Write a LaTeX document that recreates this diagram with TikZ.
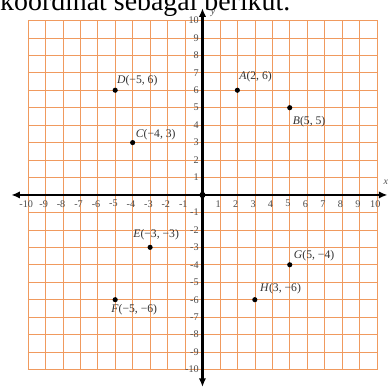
\documentclass[tikz,border=0pt]{standalone}
\usepackage{fontspec}
\setmainfont{Liberation Serif}
\usetikzlibrary{positioning,arrows.meta}
\definecolor{GridOrange}{HTML}{F09A5E}

\begin{document}
\begin{tikzpicture}[x=0.5cm, y=0.5cm,
  dot/.style={circle,fill=black,inner sep=0pt,minimum size=4.2pt},
  ptlab/.style={anchor=west,inner sep=0pt,font=\fontsize{9.5}{11}\selectfont,text=black!80},
  numlab/.style={inner sep=0pt,font=\fontsize{8.3}{9}\selectfont,text=black!70}]
\clip (-11.6,-11.0) rectangle (10.63,11.17);
\fill[white] (-11.6,-11.0) rectangle (10.63,11.17);
% caption line (cut off at the top)
\node[anchor=base west,inner sep=0pt,font=\fontsize{22.7}{26}\selectfont] (caption) at (-11.6,10.55) {koordinat sebagai berikut.};
% grid
\foreach \i in {-10,...,10} {
  \draw[GridOrange,line width=0.5pt] (\i,-10) -- (\i,10);
  \draw[GridOrange,line width=0.5pt] (-10,\i) -- (10,\i);
}
% axes
\coordinate (xl) at (-10.95,0);
\coordinate (xr) at (10.6,0);
\coordinate (yb) at (0,-11.0);
\coordinate (yt) at (0,10.7);
\draw[{Latex[length=7pt,width=6pt]}-{Latex[length=7pt,width=6pt]},line width=1.7pt] (xl) -- (xr);
\draw[{Latex[length=7pt,width=6pt]}-{Latex[length=7pt,width=6pt]},line width=1.7pt] (yb) -- (yt);
\node[numlab,font=\itshape\fontsize{8}{9}\selectfont] (xname) at (10.5,0.7) {x};
\node[numlab,font=\itshape\fontsize{8}{9}\selectfont] (yname) at (0.6,10.4) {y};
\foreach \i in {-10,...,-1,1,2,...,10} {
  \node[numlab] (xt\i) at (\i-0.1,-0.5) {\i};
  \node[numlab,anchor=east] (yt\i) at (-0.2,\i) {\i};
}
\fill (0,0) circle (2.5pt);
% points
\node[dot] (A) at (2,6) {};
\node[dot] (B) at (5,5) {};
\node[dot] (C) at (-4,3) {};
\node[dot] (D) at (-5,6) {};
\node[dot] (E) at (-3,-3) {};
\node[dot] (F) at (-5,-6) {};
\node[dot] (G) at (5,-4) {};
\node[dot] (H) at (3,-6) {};
\node[ptlab] (labA) at ([shift={(0.1,0.8)}]A.center) {\textit{A}(2, 6)};
\node[ptlab] (labB) at ([shift={(0.17,-0.8)}]B.center) {\textit{B}(5, 5)};
\node[ptlab] (labC) at ([shift={(0.17,0.46)}]C.center) {\textit{C}(−4, 3)};
\node[ptlab] (labD) at ([shift={(0.1,0.57)}]D.center) {\textit{D}(−5, 6)};
\node[ptlab] (labE) at ([shift={(-0.97,0.75)}]E.center) {\textit{E}(−3, −3)};
\node[ptlab] (labF) at ([shift={(-0.23,-0.57)}]F.center) {\textit{F}(−5, −6)};
\node[ptlab] (labG) at ([shift={(0.23,0.52)}]G.center) {\textit{G}(5, −4)};
\node[ptlab] (labH) at ([shift={(0.29,0.63)}]H.center) {\textit{H}(3, −6)};
\end{tikzpicture}
\end{document}
